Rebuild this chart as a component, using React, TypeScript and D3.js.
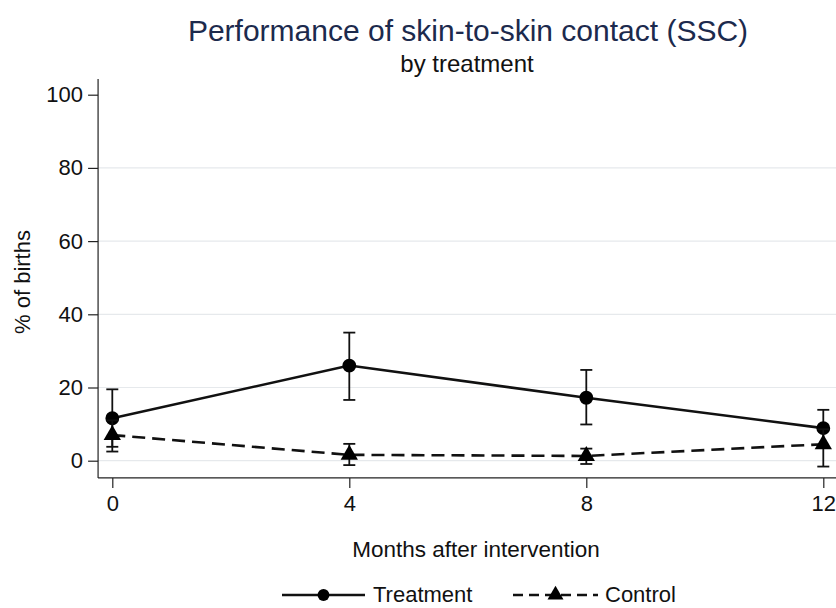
import * as d3 from "d3";
import React from "react";

const months = [0, 4, 8, 12];
const treatment = [11.6, 26.0, 17.2, 8.9];
const treatmentLow = [3.8, 16.6, 9.9, 3.8];
const treatmentHigh = [19.5, 35.0, 24.8, 13.9];
const control = [7.0, 1.6, 1.3, 4.5];
const controlLow = [2.5, -1.2, -0.9, -1.6];
const controlHigh = [11.0, 4.6, 3.3, 8.6];
const yTicks = [0, 20, 40, 60, 80, 100];
const gridTicks = [0, 20, 40, 60, 80];

type Pt = { m: number; v: number; lo: number; hi: number };

export default function App() {
  const svgRef = React.useRef<SVGSVGElement | null>(null);
  const width = 836;
  const height = 608;

  React.useEffect(() => {
    document.body.style.margin = "0";
    const svg = d3.select(svgRef.current);
    svg.selectAll("*").remove();
    const font = "Liberation Sans, Arial, sans-serif";

    const x = d3.scaleLinear().domain([0, 12]).range([112.3, 823.3]);
    const y = d3.scaleLinear().domain([0, 100]).range([460.7, 94.7]);
    const plotLeft = x(-0.24);
    const plotBottom = y(-4.7);
    const plotTop = y(104.3);

    // gridlines
    svg
      .append("g")
      .selectAll("line")
      .data(gridTicks)
      .join("line")
      .attr("x1", plotLeft)
      .attr("x2", width)
      .attr("y1", (d) => y(d))
      .attr("y2", (d) => y(d))
      .attr("stroke", "#e6e9ec")
      .attr("stroke-width", 1.2);

    // y axis
    const gy = svg
      .append("g")
      .attr("transform", `translate(${plotLeft},0)`)
      .call(d3.axisLeft(y).tickValues(yTicks).tickSize(10).tickSizeOuter(0).tickPadding(5));
    gy.select(".domain").remove();
    gy.selectAll("line").attr("stroke", "#222").attr("stroke-width", 1.2);
    gy.selectAll("text").attr("font-size", 22).attr("font-family", font).attr("fill", "#111");
    svg
      .append("line")
      .attr("x1", plotLeft)
      .attr("x2", plotLeft)
      .attr("y1", plotTop)
      .attr("y2", plotBottom)
      .attr("stroke", "#222")
      .attr("stroke-width", 1.2);

    // x axis
    const gx = svg
      .append("g")
      .attr("transform", `translate(0,${plotBottom})`)
      .call(d3.axisBottom(x).tickValues(months).tickSize(10).tickSizeOuter(0).tickPadding(7));
    gx.select(".domain").remove();
    gx.selectAll("line").attr("stroke", "#222").attr("stroke-width", 1.2);
    gx.selectAll("text").attr("font-size", 22).attr("font-family", font).attr("fill", "#111");
    svg
      .append("line")
      .attr("x1", plotLeft)
      .attr("x2", width)
      .attr("y1", plotBottom)
      .attr("y2", plotBottom)
      .attr("stroke", "#222")
      .attr("stroke-width", 1.2);

    const series = [
      { name: "Treatment", vals: treatment, lo: treatmentLow, hi: treatmentHigh, dash: null, marker: "circle" },
      { name: "Control", vals: control, lo: controlLow, hi: controlHigh, dash: "13,7", marker: "triangle" },
    ];

    const line = d3
      .line<Pt>()
      .x((d) => x(d.m))
      .y((d) => y(d.v));

    series.forEach((s) => {
      const pts: Pt[] = months.map((m, i) => ({ m, v: s.vals[i], lo: s.lo[i], hi: s.hi[i] }));
      const g = svg.append("g");
      // error bars
      const eb = g.selectAll("g.eb").data(pts).join("g");
      eb.append("line")
        .attr("x1", (d) => x(d.m))
        .attr("x2", (d) => x(d.m))
        .attr("y1", (d) => y(d.lo))
        .attr("y2", (d) => y(d.hi))
        .attr("stroke", "#111")
        .attr("stroke-width", 1.8);
      [(d: Pt) => d.lo, (d: Pt) => d.hi].forEach((acc) => {
        eb.append("line")
          .attr("x1", (d) => x(d.m) - 6)
          .attr("x2", (d) => x(d.m) + 6)
          .attr("y1", (d) => y(acc(d)))
          .attr("y2", (d) => y(acc(d)))
          .attr("stroke", "#111")
          .attr("stroke-width", 1.8);
      });
      g.append("path")
        .attr("d", line(pts) ?? "")
        .attr("fill", "none")
        .attr("stroke", "#111")
        .attr("stroke-width", 2.6)
        .attr("stroke-dasharray", s.dash);
      const sym = s.marker === "circle" ? d3.symbolCircle : d3.symbolTriangle;
      const size = s.marker === "circle" ? 150 : 130;
      g.selectAll("path.m")
        .data(pts)
        .join("path")
        .attr("transform", (d) => `translate(${x(d.m)},${y(d.v)})`)
        .attr("d", d3.symbol(sym, size)() ?? "")
        .attr("fill", "#000");
    });

    // titles
    svg
      .append("text")
      .attr("x", 468)
      .attr("y", 41)
      .attr("text-anchor", "middle")
      .attr("font-size", 30)
      .attr("font-family", font)
      .attr("fill", "#1c2a4d")
      .text("Performance of skin-to-skin contact (SSC)");
    svg
      .append("text")
      .attr("x", 467)
      .attr("y", 72)
      .attr("text-anchor", "middle")
      .attr("font-size", 24)
      .attr("font-family", font)
      .attr("fill", "#111")
      .text("by treatment");
    svg
      .append("text")
      .attr("x", 476)
      .attr("y", 557)
      .attr("text-anchor", "middle")
      .attr("font-size", 22.5)
      .attr("font-family", font)
      .attr("fill", "#111")
      .text("Months after intervention");
    svg
      .append("text")
      .attr("transform", "rotate(-90)")
      .attr("x", -282)
      .attr("y", 30)
      .attr("text-anchor", "middle")
      .attr("font-size", 22)
      .attr("font-family", font)
      .attr("fill", "#111")
      .text("% of births");

    // legend
    const legY = 595;
    const leg = [
      { x0: 282, x1: 365, tx: 373, label: "Treatment", dash: null, sym: d3.symbolCircle, size: 110 },
      { x0: 513, x1: 598, tx: 605, label: "Control", dash: "10,6", sym: d3.symbolTriangle, size: 110 },
    ];
    leg.forEach((l) => {
      svg
        .append("line")
        .attr("x1", l.x0)
        .attr("x2", l.x1)
        .attr("y1", legY)
        .attr("y2", legY)
        .attr("stroke", "#111")
        .attr("stroke-width", 2.6)
        .attr("stroke-dasharray", l.dash);
      svg
        .append("path")
        .attr("transform", `translate(${(l.x0 + l.x1) / 2},${legY})`)
        .attr("d", d3.symbol(l.sym, l.size)() ?? "")
        .attr("fill", "#000");
      svg
        .append("text")
        .attr("x", l.tx)
        .attr("y", legY + 7)
        .attr("font-size", 22)
        .attr("font-family", font)
        .attr("fill", "#111")
        .text(l.label);
    });
  }, []);

  return <svg ref={svgRef} width={width} height={height} style={{ display: "block", background: "#fff" }}></svg>;
}
